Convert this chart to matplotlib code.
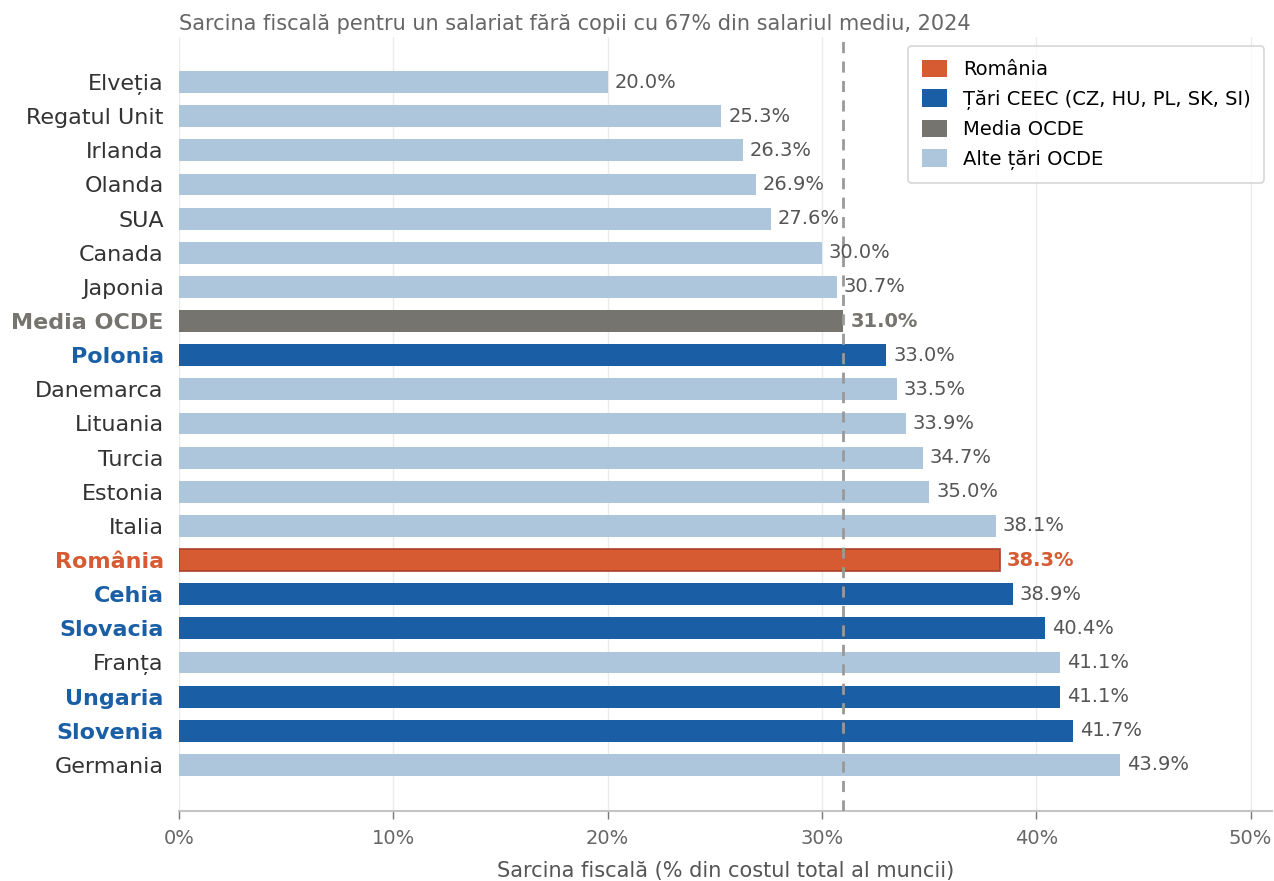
import matplotlib
matplotlib.use("Agg")
import matplotlib.pyplot as plt
from matplotlib.patches import Patch

countries = ["Elveția", "Regatul Unit", "Irlanda", "Olanda", "SUA", "Canada", "Japonia",
             "Media OCDE", "Polonia", "Danemarca", "Lituania", "Turcia", "Estonia", "Italia",
             "România", "Cehia", "Slovacia", "Franța", "Ungaria", "Slovenia", "Germania"]
values = [20.0, 25.3, 26.3, 26.9, 27.6, 30.0, 30.7, 31.0, 33.0, 33.5, 33.9, 34.7, 35.0, 38.1,
          38.3, 38.9, 40.4, 41.1, 41.1, 41.7, 43.9]
groups = ["alte", "alte", "alte", "alte", "alte", "alte", "alte", "media", "ceec", "alte",
          "alte", "alte", "alte", "alte", "ro", "ceec", "ceec", "alte", "ceec", "ceec", "alte"]
oecd_avg = 31.0
xticks = [0, 10, 20, 30, 40, 50]

colors = {"ro": "#D65A32", "ceec": "#1A5FA6", "media": "#75746E", "alte": "#AEC6DB"}
label_colors = {"ro": "#D65A32", "ceec": "#1A5FA6", "media": "#75746E", "alte": "#333333"}
value_colors = {"ro": "#D65A32", "ceec": "#555555", "media": "#75746E", "alte": "#555555"}

fig = plt.figure(figsize=(12.74, 8.81), dpi=100)
ax = fig.add_axes([0.1405, 0.0795, 0.858, 0.8785])

ys = list(range(len(countries)))
for y, v, g in zip(ys, values, groups):
    ec = "#A8412A" if g == "ro" else colors[g]
    lw = 1.2 if g == "ro" else 0
    ax.barh(y, v, height=0.64, color=colors[g], edgecolor=ec, linewidth=lw, zorder=2)
    bold = g in ("ro", "media")
    ax.annotate(f"{v:.1f}%", xy=(v, y), xytext=(5, 0), textcoords="offset points",
                va="center", ha="left", fontsize=14, color=value_colors[g],
                fontweight="bold" if bold else "normal", zorder=4)

ax.axvline(oecd_avg, color="#999999", linestyle=(0, (4, 3)), linewidth=2, zorder=3)

ax.set_xlim(0, 51)
ax.set_ylim(len(countries) - 1 + 1.35, -1.32)
ax.set_yticks(ys)
ax.set_yticklabels(countries, fontsize=16)
for lbl, g in zip(ax.get_yticklabels(), groups):
    lbl.set_color(label_colors[g])
    if g != "alte":
        lbl.set_fontweight("bold")
ax.tick_params(axis="y", length=0, pad=11)

ax.set_xticks(xticks)
ax.set_xticklabels([f"{t}%" for t in xticks], fontsize=14, color="#666666")
ax.tick_params(axis="x", length=6, width=1, color="#777777", pad=7)

ax.grid(axis="x", color="#EBEBEB", linewidth=1, zorder=0)
ax.set_axisbelow(True)
for s in ("top", "right", "left"):
    ax.spines[s].set_visible(False)
ax.spines["bottom"].set_color("#C4C4C4")
ax.spines["bottom"].set_linewidth(1.5)

ax.set_xlabel("Sarcina fiscală (% din costul total al muncii)", fontsize=15,
              color="#555555", labelpad=9)
ax.set_title("Sarcina fiscală pentru un salariat fără copii cu 67% din salariul mediu, 2024",
             loc="left", fontsize=15, color="#666666", pad=5)

handles = [Patch(facecolor=colors["ro"], label="România"),
           Patch(facecolor=colors["ceec"], label="Țări CEEC (CZ, HU, PL, SK, SI)"),
           Patch(facecolor=colors["media"], label="Media OCDE"),
           Patch(facecolor=colors["alte"], label="Alte țări OCDE")]
leg = ax.legend(handles=handles, loc="upper right", fontsize=14, frameon=True,
                borderpad=0.7, handlelength=1.3, handleheight=1.0, labelspacing=0.52,
                borderaxespad=0, bbox_to_anchor=(0.9927, 0.988))
leg.get_frame().set_edgecolor("#CCCCCC")
leg.get_frame().set_linewidth(1.2)

fig.savefig("out.png", dpi=100)
